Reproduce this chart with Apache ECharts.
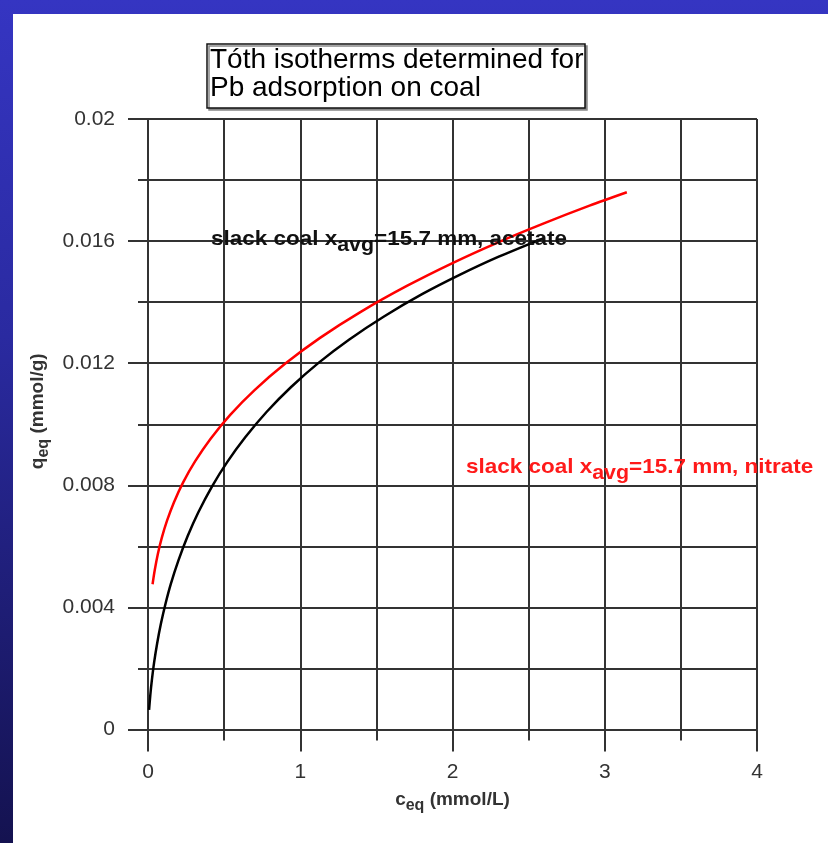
<!DOCTYPE html>
<html>
<head>
<meta charset="utf-8">
<script src="https://cdn.jsdelivr.net/npm/echarts@6/dist/echarts.min.js"></script>
<style>
html,body{margin:0;padding:0;}
body{width:828px;height:843px;background:linear-gradient(to bottom,#3535c2 0%,#2a2aa0 40%,#141250 100%);}
#chart{position:absolute;left:0;top:0;width:828px;height:843px;}
</style>
</head>
<body>
<div id="chart"></div>
<script>
// ---- data ----
const titleLines = ['Tóth isotherms determined for', 'Pb adsorption on coal'];
const xTicks = [0, 1, 2, 3, 4];
const yTicks = [0, 0.004, 0.008, 0.012, 0.016, 0.02];

const acetateX = [0.007, 0.015, 0.025, 0.04, 0.06, 0.085, 0.115, 0.15, 0.2, 0.26, 0.33, 0.42, 0.52, 0.64, 0.78, 0.94, 1.12, 1.32, 1.55, 1.8, 2.05, 2.3, 2.6];
const acetateY = [0.00064, 0.00112, 0.0016, 0.00219, 0.00282, 0.00347, 0.00412, 0.00477, 0.00554, 0.00633, 0.00711, 0.00796, 0.00876, 0.00958, 0.01041, 0.01122, 0.01201, 0.01277, 0.01353, 0.01426, 0.0149, 0.01548, 0.0161];

const nitrateX = [0.03, 0.045, 0.065, 0.09, 0.125, 0.17, 0.23, 0.31, 0.41, 0.54, 0.7, 0.9, 1.13, 1.4, 1.7, 2.0, 2.3, 2.6, 2.9, 3.145];
const nitrateY = [0.00476, 0.00524, 0.00576, 0.00627, 0.00684, 0.00744, 0.00809, 0.00879, 0.00952, 0.01031, 0.01112, 0.01198, 0.01283, 0.01369, 0.01453, 0.01528, 0.01596, 0.01658, 0.01716, 0.0176];

const acetateLabel = ['slack coal x', 'avg', '=15.7 mm, acetate'];
const nitrateLabel = ['slack coal x', 'avg', '=15.7 mm, nitrate'];

// ---- chart ----
const chart = echarts.init(document.getElementById('chart'), null, {renderer: 'canvas'});
const pair = (xs, ys) => xs.map((x, i) => [x, ys[i]]);
const gridColor = '#333';
const labelFont = 'Liberation Sans';

function richLabel(parts, color, size, subSize) {
  return {
    text: '{a|' + parts[0] + '}{s|' + parts[1] + '}{a|' + parts[2] + '}',
    rich: {
      a: {fontFamily: 'Liberation Sans', fontWeight: 'bold', fontSize: size, fill: color, lineHeight: 24, verticalAlign: 'middle'},
      s: {fontFamily: 'Liberation Sans', fontWeight: 'bold', fontSize: subSize, fill: color, lineHeight: 31, verticalAlign: 'bottom'}
    }
  };
}
const nameRich = {
  a: {fontFamily: labelFont, fontWeight: 'bold', fontSize: 19, color: '#333', lineHeight: 22, verticalAlign: 'middle'},
  s: {fontFamily: labelFont, fontWeight: 'bold', fontSize: 16, color: '#333', lineHeight: 28, verticalAlign: 'bottom'}
};

const option = {
  backgroundColor: 'transparent',
  animation: false,
  grid: {left: 148, right: 71, top: 119, bottom: 113.5, containLabel: false},
  xAxis: {
    type: 'value', min: xTicks[0], max: xTicks[xTicks.length - 1], interval: 1,
    name: '{a|c}{s|eq}{a| (mmol/L)}',
    nameLocation: 'middle', nameGap: 56,
    nameTextStyle: {rich: nameRich},
    axisLine: {show: true, onZero: false, lineStyle: {color: gridColor, width: 2}},
    axisTick: {show: true, length: 22, lineStyle: {color: gridColor, width: 2}},
    minorTick: {show: true, splitNumber: 2, length: 11, lineStyle: {color: gridColor, width: 2}},
    splitLine: {show: true, lineStyle: {color: gridColor, width: 2}},
    minorSplitLine: {show: true, lineStyle: {color: gridColor, width: 2}},
    axisLabel: {fontFamily: labelFont, fontSize: 21, color: '#333', margin: 32}
  },
  yAxis: {
    type: 'value', min: yTicks[0], max: yTicks[yTicks.length - 1], interval: 0.004,
    name: '{a|q}{s|eq}{a| (mmol/g)}',
    nameLocation: 'middle', nameGap: 82, nameRotate: 90,
    nameTextStyle: {padding: [0, 0, 0, 26], rich: nameRich},
    axisLine: {show: true, onZero: false, lineStyle: {color: gridColor, width: 2}},
    axisTick: {show: true, length: 20, lineStyle: {color: gridColor, width: 2}},
    minorTick: {show: true, splitNumber: 2, length: 10, lineStyle: {color: gridColor, width: 2}},
    splitLine: {show: true, lineStyle: {color: gridColor, width: 2}},
    minorSplitLine: {show: true, lineStyle: {color: gridColor, width: 2}},
    axisLabel: {fontFamily: labelFont, fontSize: 21, color: '#333', margin: 33,
      formatter: v => String(+v.toFixed(3))}
  },
  series: [
    {name: 'acetate', type: 'line', data: pair(acetateX, acetateY), showSymbol: false, smooth: 0.3,
      lineStyle: {color: '#000', width: 2.5}, z: 3},
    {name: 'nitrate', type: 'line', data: pair(nitrateX, nitrateY), showSymbol: false, smooth: 0.3,
      lineStyle: {color: '#ff0000', width: 2.5}, z: 3}
  ],
  graphic: [
    {type: 'rect', left: 13, top: 14, z: -10, silent: true,
      shape: {x: 0, y: 0, width: 815, height: 829}, style: {fill: '#fff'}},
    {type: 'rect', z: 10, x: 207, y: 44,
      shape: {x: 0, y: 0, width: 378, height: 64},
      style: {fill: '#fff', stroke: '#111', lineWidth: 1.5, shadowColor: '#888', shadowOffsetX: 2, shadowOffsetY: 2, shadowBlur: 0}},
    {type: 'text', z: 11, x: 210, y: 46,
      style: {text: titleLines.join('\n'), fontFamily: 'Liberation Sans', fontSize: 28, lineHeight: 28, fill: '#000', verticalAlign: 'top'}},
    {type: 'text', z: 12, x: 211, y: 224, scaleX: 1.07,
      style: Object.assign(richLabel(acetateLabel, '#111', 21, 20), {verticalAlign: 'top'})},
    {type: 'text', z: 12, x: 466, y: 452, scaleX: 1.07,
      style: Object.assign(richLabel(nitrateLabel, '#ff1a1a', 21, 20), {verticalAlign: 'top'})}
  ]
};
chart.setOption(option);
</script>
</body>
</html>
